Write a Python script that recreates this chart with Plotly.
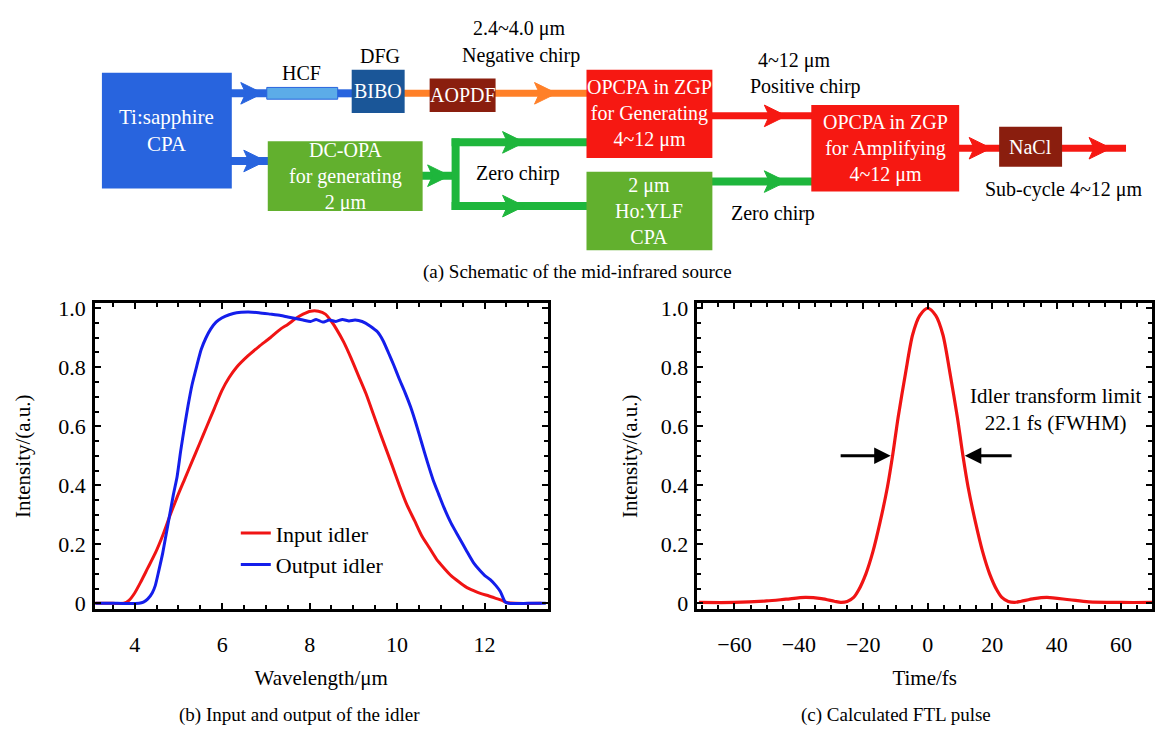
import plotly.graph_objects as go

# ---------------- data ----------------
wl_input = [3.1, 3.5, 3.75, 3.87, 4.0, 4.13, 4.3, 4.47, 4.64, 4.8, 4.97, 5.14, 5.31, 5.48, 5.65, 5.82, 5.99, 6.16,
            6.33, 6.6, 6.84, 7.1, 7.34, 7.5, 7.68, 7.85, 8.02, 8.2, 8.36, 8.5, 8.61, 8.78, 8.95, 9.12, 9.29, 9.46,
            9.63, 9.88, 10.05, 10.22, 10.4, 10.56, 10.73, 10.9, 11.07, 11.24, 11.41, 11.58, 11.75, 11.92, 12.1,
            12.26, 12.4, 12.5, 12.7, 13.3]
int_input = [0.0, 0.0, 0.0, 0.01, 0.035, 0.07, 0.12, 0.17, 0.23, 0.295, 0.36, 0.42, 0.48, 0.54, 0.60, 0.66, 0.72, 0.765,
             0.80, 0.84, 0.87, 0.90, 0.93, 0.945, 0.965, 0.98, 0.99, 0.99, 0.98, 0.955, 0.93, 0.885, 0.83, 0.77, 0.71, 0.64,
             0.57, 0.47, 0.40, 0.335, 0.28, 0.23, 0.19, 0.15, 0.12, 0.093, 0.073, 0.055, 0.043, 0.033, 0.025,
             0.017, 0.01, 0.003, 0.0, 0.0]

wl_output = [3.1, 3.6, 4.1, 4.2, 4.3, 4.4, 4.47, 4.55, 4.64, 4.72, 4.8, 4.88, 4.97, 5.05, 5.14, 5.22, 5.31, 5.42, 5.52,
             5.63, 5.74, 5.86, 5.99, 6.16, 6.33, 6.6, 6.84, 7.1, 7.34, 7.5, 7.68, 7.85, 8.02, 8.15, 8.3, 8.45, 8.6,
             8.75, 8.9, 9.04, 9.2, 9.38, 9.55, 9.68, 9.8, 9.93, 10.05, 10.18, 10.31, 10.44, 10.56, 10.69, 10.82,
             10.95, 11.07, 11.24, 11.41, 11.58, 11.75, 11.9, 12.0, 12.13, 12.26, 12.36, 12.47, 12.55, 13.0, 13.4]
int_output = [0.0, 0.0, 0.0, 0.004, 0.015, 0.035, 0.06, 0.11, 0.17, 0.235, 0.30, 0.365, 0.43, 0.515, 0.60, 0.67, 0.74,
              0.805, 0.86, 0.90, 0.93, 0.953, 0.967, 0.978, 0.985, 0.987, 0.985, 0.98, 0.975, 0.97, 0.965, 0.96,
              0.955, 0.962, 0.953, 0.96, 0.955, 0.962, 0.957, 0.96, 0.955, 0.94, 0.92, 0.89, 0.85, 0.805, 0.76,
              0.715, 0.665, 0.605, 0.545, 0.48, 0.42, 0.37, 0.325, 0.27, 0.225, 0.18, 0.137, 0.11, 0.095, 0.08,
              0.06, 0.04, 0.005, 0.0, 0.0, 0.0]

time_fs = [-71, -60, -50, -44, -38, -33, -29, -27, -25, -23, -21.5, -19.2, -17, -14.8, -12.5, -10.85, -9.2, -6.9,
           -4.7, -2.5, 0, 2.5, 4.7, 6.9, 9.2, 10.85, 12.5, 14.8, 17, 19.2, 21.5, 23, 25, 27, 29, 33, 37, 44, 50,
           60, 69.6]
pulse = [0.003, 0.003, 0.008, 0.014, 0.02, 0.016, 0.007, 0.003, 0.006, 0.02, 0.044, 0.10, 0.176, 0.275, 0.395,
         0.505, 0.63, 0.78, 0.91, 0.975, 1.0, 0.975, 0.91, 0.78, 0.63, 0.505, 0.395, 0.275, 0.176, 0.10, 0.044,
         0.02, 0.006, 0.003, 0.007, 0.016, 0.02, 0.012, 0.005, 0.003, 0.003]

y_ticks = [0, 0.2, 0.4, 0.6, 0.8, 1.0]
y_ticktext = ["0", "0.2", "0.4", "0.6", "0.8", "1.0"]
wl_ticks = [4, 6, 8, 10, 12]
t_ticks = [-60, -40, -20, 0, 20, 40, 60]

# ---------------- figure ----------------
W, H = 1155, 730
FONT = "Times New Roman, Liberation Serif, Tinos, serif"
BLUE = "rgb(40,100,222)"
DBLUE = "rgb(26,86,152)"
HCFC = "rgb(92,172,232)"
ORANGE = "rgb(255,128,40)"
BROWN = "rgb(138,30,14)"
RED = "rgb(246,24,18)"
GREENBOX = "rgb(98,176,46)"
GREENLN = "rgb(30,182,60)"


def fx(x):
    return x / W


def fy(y):
    return 1 - y / H


fig = go.Figure()
fig.add_trace(go.Scatter(x=wl_input, y=int_input, mode="lines", name="Input idler",
                         line=dict(color="rgb(240,20,20)", width=3, shape="spline", smoothing=0.6),
                         xaxis="x", yaxis="y"))
fig.add_trace(go.Scatter(x=wl_output, y=int_output, mode="lines", name="Output idler",
                         line=dict(color="rgb(20,30,235)", width=3, shape="spline", smoothing=0.6),
                         xaxis="x", yaxis="y"))
fig.add_trace(go.Scatter(x=time_fs, y=pulse, mode="lines", name="FTL pulse", showlegend=False,
                         line=dict(color="rgb(240,20,20)", width=3.2, shape="spline", smoothing=0.8),
                         xaxis="x2", yaxis="y2"))

tickfont = dict(family=FONT, size=22, color="black")
titlefont = dict(family=FONT, size=21, color="black")
common = dict(showline=True, linecolor="black", linewidth=2.5, mirror="allticks", ticks="inside",
              ticklen=6, tickwidth=1.5, tickcolor="black", showgrid=False, zeroline=False,
              tickfont=tickfont)
minor_x1 = dict(dtick=0.5, tick0=0, ticks="inside", ticklen=4, tickcolor="black", tickwidth=1.5)
minor_x2 = dict(dtick=5, tick0=0, ticks="inside", ticklen=4, tickcolor="black", tickwidth=1.5)
minor_y = dict(dtick=0.05, tick0=0, ticks="inside", ticklen=4, tickcolor="black", tickwidth=1.5)

fig.update_layout(
    width=W, height=H, margin=dict(l=0, r=0, t=0, b=0),
    paper_bgcolor="white", plot_bgcolor="rgba(0,0,0,0)",
    font=dict(family=FONT, size=19, color="black"),
    xaxis=dict(domain=[fx(95), fx(548)], range=[3.09, 13.44], tickvals=wl_ticks, anchor="y",
               minor=minor_x1, ticklabelstandoff=14,
               title=dict(text="Wavelength/μm", font=titlefont, standoff=14), **common),
    yaxis=dict(domain=[fy(614), fy(302)], range=[-0.02, 1.017], tickvals=y_ticks, ticktext=y_ticktext,
               anchor="x", minor=minor_y, ticklabelstandoff=2,
               title=dict(text="Intensity/(a.u.)", font=titlefont, standoff=22), **common),
    xaxis2=dict(domain=[fx(698), fx(1153)], range=[-71.5, 69.6], tickvals=t_ticks, anchor="y2",
                minor=minor_x2, ticklabelstandoff=14,
                title=dict(text="Time/fs", font=titlefont, standoff=14), **common),
    yaxis2=dict(domain=[fy(614), fy(302)], range=[-0.02, 1.017], tickvals=y_ticks, ticktext=y_ticktext,
                anchor="x2", minor=minor_y, ticklabelstandoff=2,
                title=dict(text="Intensity/(a.u.)", font=titlefont, standoff=18), **common),
    legend=dict(x=fx(236), y=fy(515), xanchor="left", yanchor="top", bgcolor="rgba(0,0,0,0)",
                font=dict(family=FONT, size=22), itemwidth=30),
    showlegend=True,
)

# FWHM arrows and label on the pulse plot
fig.add_annotation(x=-11.5, y=0.5, ax=-27.5, ay=0.5, xref="x2", yref="y2", axref="x2", ayref="y2",
                   text="", showarrow=True, arrowhead=2, arrowsize=1.1, arrowwidth=3, arrowcolor="black")
fig.add_annotation(x=11.5, y=0.5, ax=26.5, ay=0.5, xref="x2", yref="y2", axref="x2", ayref="y2",
                   text="", showarrow=True, arrowhead=2, arrowsize=1.1, arrowwidth=3, arrowcolor="black")
fig.add_annotation(x=39.8, y=0.657, xref="x2", yref="y2", showarrow=False, xanchor="center", yanchor="middle",
                   text="Idler transform limit<br>22.1 fs (FWHM)", font=dict(family=FONT, size=21))

# ---------------- schematic ----------------
shapes = []


def hline(x0, x1, y, color, w=8):
    shapes.append(dict(type="line", xref="paper", yref="paper", x0=fx(x0), x1=fx(x1), y0=fy(y), y1=fy(y),
                       line=dict(color=color, width=w)))


def vline(x, y0, y1, color, w=8):
    shapes.append(dict(type="line", xref="paper", yref="paper", x0=fx(x), x1=fx(x), y0=fy(y0), y1=fy(y1),
                       line=dict(color=color, width=w)))


def head(tx, y, color, L=22, h=11, notch=5):
    p = [(tx - L, y - h), (tx, y), (tx - L, y + h), (tx - L + notch, y)]
    path = "M " + " L ".join(f"{fx(a):.5f},{fy(b):.5f}" for a, b in p) + " Z"
    shapes.append(dict(type="path", xref="paper", yref="paper", path=path, fillcolor=color,
                       line=dict(color=color, width=1)))


def box(x0, y0, x1, y1, color, text=None, size=19, border=None):
    shapes.append(dict(type="rect", xref="paper", yref="paper", x0=fx(x0), x1=fx(x1), y0=fy(y1), y1=fy(y0),
                       fillcolor=color, line=dict(color=border or color, width=1 if border else 0)))
    if text:
        fig.add_annotation(x=fx((x0 + x1) / 2), y=fy((y0 + y1) / 2), xref="paper", yref="paper", text=text,
                           showarrow=False, xanchor="center", yanchor="middle",
                           font=dict(family=FONT, size=size, color="white"))


def label(text, x, y, size=20):
    fig.add_annotation(x=fx(x), y=fy(y), xref="paper", yref="paper", text=text, showarrow=False,
                       xanchor="center", yanchor="middle",
                       font=dict(family=FONT, size=size, color="black"))


# connecting lines
hline(230, 268, 88, BLUE)
hline(336, 354, 88, BLUE)
hline(230, 270, 157, BLUE)
hline(403, 589, 88, ORANGE, 7)
hline(711, 814, 111, RED, 7)
hline(958, 1002, 144, RED, 7)
hline(1061, 1127, 144, RED, 7)
hline(421, 456, 172, GREENLN)
vline(456, 134, 207, GREENLN)
hline(452, 589, 138, GREENLN)
hline(452, 589, 203, GREENLN)
hline(711, 814, 178, GREENLN)
# arrow heads
head(263, 88, BLUE)
head(266, 157, BLUE)
head(557, 88, ORANGE)
head(787, 111, RED)
head(450, 172, GREENLN)
head(525, 138, GREENLN)
head(525, 203, GREENLN)
head(787, 178, GREENLN)
head(992, 144, RED)
head(1112, 144, RED)

# boxes
box(102, 67, 232, 185, BLUE, "Ti:sapphire<br>CPA", 21)
box(267, 82, 338, 94, HCFC, border=BLUE)
box(352, 64, 405, 108, DBLUE, "BIBO", 20)
box(430, 73, 496, 107, BROWN, "AOPDF", 20)
box(587, 64, 713, 154, RED, "OPCPA in ZGP<br>for Generating<br>4~12 μm", 20)
box(268, 137, 423, 208, GREENBOX, "DC-OPA<br>for generating<br>2 μm", 20)
box(587, 168, 713, 248, GREENBOX, "2 μm<br>Ho:YLF<br>CPA", 20)
box(812, 100, 960, 188, RED, "OPCPA in ZGP<br>for Amplifying<br>4~12 μm", 20)
box(1000, 122, 1063, 163, BROWN, "NaCl", 20)

label("HCF", 302, 67)
label("DFG", 380, 50)
label("2.4~4.0 μm", 520, 22)
label("Negative chirp", 521, 49)
label("4~12 μm", 795, 55)
label("Positive chirp", 806, 81)
label("Zero chirp", 518, 170)
label("Zero chirp", 774, 211)
label("Sub-cycle 4~12 μm", 1065, 186)
label("(a) Schematic of the mid-infrared source", 578, 270, 19)
label("(b) Input and output of the idler", 300, 722, 19)
label("(c) Calculated FTL pulse", 897, 722, 19)

fig.update_layout(shapes=shapes)
fig.write_html("out.html")
